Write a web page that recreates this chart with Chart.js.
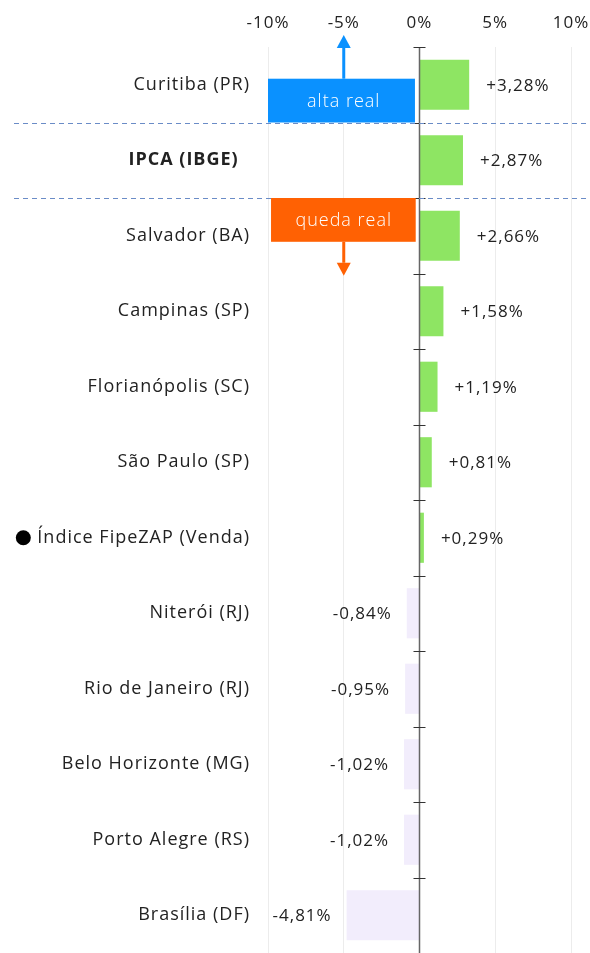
<!DOCTYPE html>
<html><head><meta charset="utf-8">
<script src="https://cdn.jsdelivr.net/npm/chart.js@4"></script>
<style>html,body{margin:0;padding:0;background:#fff;overflow:hidden}#wrap{width:590px;height:953px;position:relative}</style>
</head><body><div id="wrap"><canvas id="c"></canvas></div>
<script>
const categories = ["Curitiba (PR)","IPCA (IBGE)\u00a0\u00a0","Salvador (BA)","Campinas (SP)","Florianópolis (SC)","São Paulo (SP)","Índice FipeZAP (Venda)","Niterói (RJ)","Rio de Janeiro (RJ)","Belo Horizonte (MG)","Porto Alegre (RS)","Brasília (DF)"];
const values = [3.28,2.87,2.66,1.58,1.19,0.81,0.29,-0.84,-0.95,-1.02,-1.02,-4.81];
const valueLabels = ["+3,28%","+2,87%","+2,66%","+1,58%","+1,19%","+0,81%","+0,29%","-0,84%","-0,95%","-1,02%","-1,02%","-4,81%"];
const xTicks = [-10,-5,0,5,10];
const xTickLabels = ["-10%","-5%","0%","5%","10%"];
const boldCategory = 1;
const markedCategory = 6;
const dashedAfterIndex = [0,1];
const annotations = [
  {text:"alta real", color:"#0a91ff", xMin:-10, xMax:-0.3, yMin:-0.08, yMax:0.5, arrowX:-5, arrowFrom:-0.08, arrowTo:-0.66},
  {text:"queda real", color:"#ff6103", xMin:-9.8, xMax:-0.25, yMin:1.5, yMax:2.08, arrowX:-5, arrowFrom:2.08, arrowTo:2.53}
];
const FONT = "'Open Sans', sans-serif";
const SPACING = '1px';

const overlay = {
  id:'overlay',
  beforeDraw(chart){ chart.ctx.letterSpacing = SPACING; },
  afterDatasetsDraw(chart){
    const {ctx, chartArea:a, scales:{x,y}} = chart;
    ctx.save();
    ctx.letterSpacing = SPACING;
    // zero line
    const x0 = x.getPixelForValue(0);
    ctx.strokeStyle = '#666'; ctx.lineWidth = 1.5;
    ctx.beginPath(); ctx.moveTo(x0, a.top); ctx.lineTo(x0, a.bottom); ctx.stroke();
    // boundary ticks on zero line
    ctx.lineWidth = 1; ctx.strokeStyle = '#333';
    for (let i = 0; i < categories.length; i++) {
      const yy = Math.round(y.getPixelForValue(i - 0.5)) + 0.5;
      ctx.beginPath(); ctx.moveTo(x0 - 6, yy); ctx.lineTo(x0 + 6, yy); ctx.stroke();
    }
    // dashed separators
    ctx.strokeStyle = '#6a8cc7'; ctx.lineWidth = 1; ctx.setLineDash([5,4]);
    dashedAfterIndex.forEach(i => {
      const yy = Math.round(y.getPixelForValue(i + 0.5)) + 0.5;
      ctx.beginPath(); ctx.moveTo(14, yy); ctx.lineTo(chart.width, yy); ctx.stroke();
    });
    ctx.setLineDash([]);
    // marker dot before the FipeZAP label
    ctx.font = "18px " + FONT;
    const lblW = ctx.measureText(categories[markedCategory]).width;
    const lblRight = y.left + y.width - 18;
    const cy = y.getPixelForValue(markedCategory);
    ctx.fillStyle = '#000';
    ctx.beginPath(); ctx.arc(lblRight - lblW - 14, cy, 7.5, 0, Math.PI * 2); ctx.fill();
    // value labels
    const meta = chart.getDatasetMeta(0);
    ctx.font = "17px " + FONT; ctx.fillStyle = '#222'; ctx.textBaseline = 'middle';
    meta.data.forEach((bar, i) => {
      const v = values[i];
      if (v >= 0) { ctx.textAlign = 'left'; ctx.fillText(valueLabels[i], bar.x + 17, bar.y + 1); }
      else { ctx.textAlign = 'right'; ctx.fillText(valueLabels[i], bar.x - 15, bar.y + 1); }
    });
    // annotations
    annotations.forEach(an => {
      const l = x.getPixelForValue(an.xMin), r = x.getPixelForValue(an.xMax);
      const t = y.getPixelForValue(an.yMin), b = y.getPixelForValue(an.yMax);
      ctx.fillStyle = an.color;
      ctx.fillRect(l, t, r - l, b - t);
      ctx.fillStyle = '#fff'; ctx.font = "300 18px " + FONT; ctx.textAlign = 'center'; ctx.textBaseline = 'middle';
      ctx.fillText(an.text, x.getPixelForValue(an.arrowX), (t + b) / 2 + 1);
      const ax = x.getPixelForValue(an.arrowX);
      const from = y.getPixelForValue(an.arrowFrom), to = y.getPixelForValue(an.arrowTo);
      const dir = to < from ? -1 : 1;
      const headLen = 13, headW = 7;
      ctx.strokeStyle = an.color; ctx.lineWidth = 3;
      ctx.beginPath(); ctx.moveTo(ax, from); ctx.lineTo(ax, to - dir * headLen); ctx.stroke();
      ctx.fillStyle = an.color;
      ctx.beginPath(); ctx.moveTo(ax, to); ctx.lineTo(ax - headW, to - dir * headLen); ctx.lineTo(ax + headW, to - dir * headLen); ctx.closePath(); ctx.fill();
    });
    ctx.restore();
  }
};

new Chart(document.getElementById('c'), {
  type: 'bar',
  data: { labels: categories, datasets: [{
    data: values,
    backgroundColor: values.map(v => v >= 0 ? '#8ee563' : '#f2edfc'),
    borderWidth: 0,
    barPercentage: 0.8, categoryPercentage: 0.83
  }]},
  options: {
    indexAxis: 'y',
    responsive: true, maintainAspectRatio: false, animation: false,
    layout: { padding: { left: 0, right: 19, top: 0, bottom: -3 } },
    plugins: { legend: { display: false }, tooltip: { enabled: false } },
    scales: {
      x: {
        position: 'top', min: -10, max: 10,
        afterBuildTicks: s => { s.ticks = xTicks.map(v => ({ value: v })); },
        afterFit: s => { s.height = 47; s.paddingLeft = 0; s.paddingRight = 0; },
        border: { display: false },
        grid: { color: c => c.tick && c.tick.value === 0 ? 'rgba(0,0,0,0)' : '#ececec', drawTicks: false },
        ticks: { padding: 14, color: '#222', font: { family: FONT, size: 17 },
          callback: (v, i) => xTickLabels[i] }
      },
      y: {
        afterFit: s => { s.width = 268; s.paddingTop = 0; s.paddingBottom = 0; },
        border: { display: false },
        grid: { display: false, drawTicks: false },
        ticks: { padding: 18, color: '#222',
          font: c => ({ family: FONT, size: 18, weight: c.index === boldCategory ? 'bold' : 'normal' }) }
      }
    }
  },
  plugins: [overlay]
});
</script></body></html>
